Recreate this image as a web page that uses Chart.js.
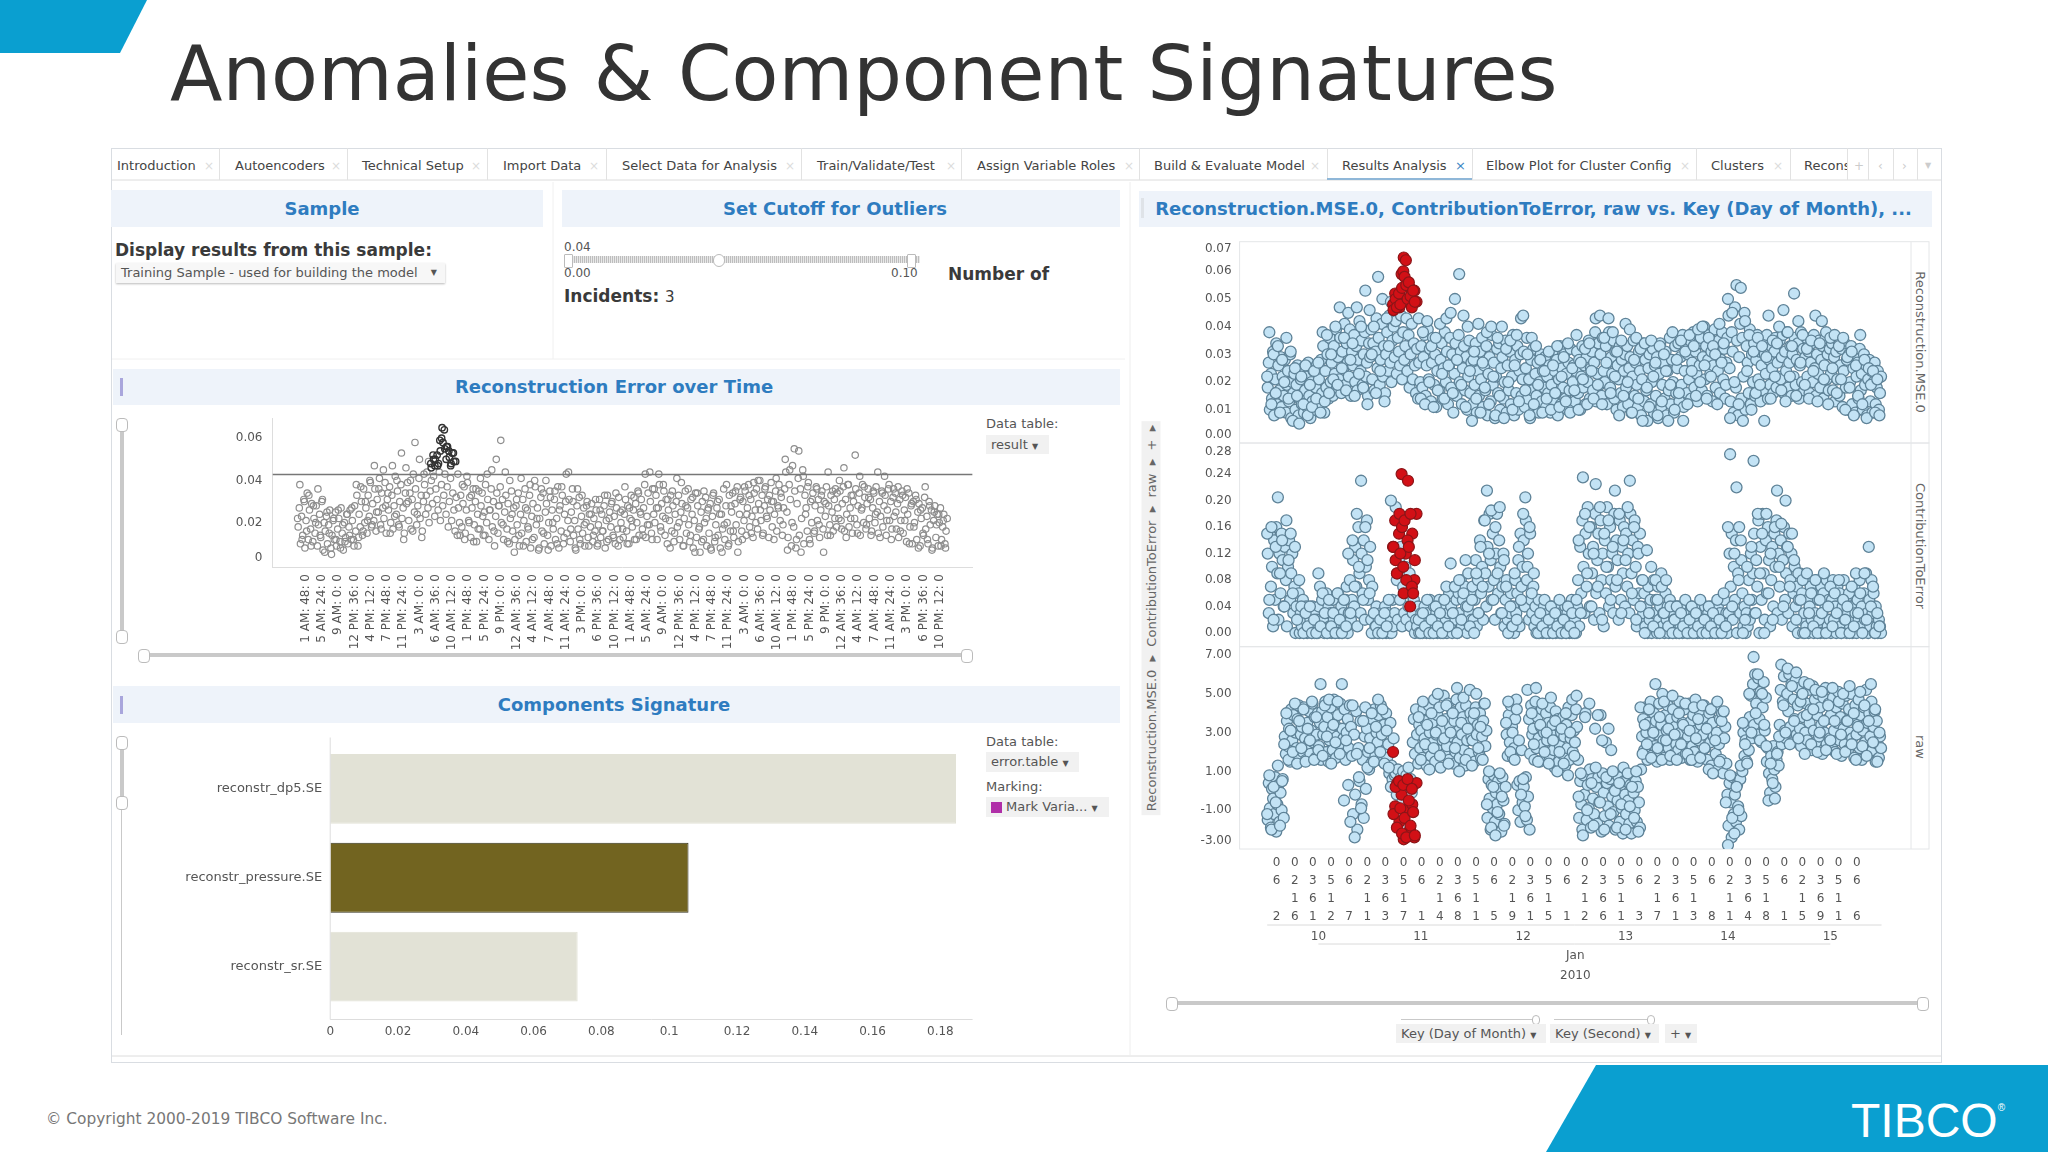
<!DOCTYPE html>
<html>
<head>
<meta charset="utf-8">
<title>Anomalies & Component Signatures</title>
<script src="https://cdn.jsdelivr.net/npm/chart.js@4/dist/chart.umd.js"></script>
<style>
html, body { margin: 0; padding: 0; background: #fff; }
body { width: 2048px; height: 1152px; position: relative; overflow: hidden; font-family: "DejaVu Sans", sans-serif; color: #444; }
.abs, .tab, .head, .lbl, .sel, .line, .handle { position: absolute; }
.tab { top: 156px; font-size: 13px; line-height: 20px; color: #444; white-space: nowrap; }
.tx { position: absolute; top: 156px; font-size: 12px; line-height: 20px; color: #dcdcdc; }
.sep { position: absolute; top: 148px; height: 32px; width: 1px; background: #e2e2e2; }
.head { background: #eef3fa; color: #2e7cc0; font-weight: bold; font-size: 18px; text-align: center; white-space: nowrap; box-sizing: border-box; }
.lbl { font-size: 13px; line-height: 14px; white-space: nowrap; color: #555; }
.bold { font-weight: bold; font-size: 17px; line-height: 18px; color: #3a3a3a; }
.sel { background: #f1f1f1; font-size: 13px; line-height: 20px; color: #555; white-space: nowrap; padding-left: 5px; box-sizing: border-box; }
.line { background: #c9c9c9; }
.handle { width: 10px; height: 12px; background: #fff; border: 1px solid #bbb; border-radius: 4px; }
.chartbox { position: absolute; }
.rot { position: absolute; white-space: pre; font-size: 13px; color: #666; transform-origin: center; }
</style>
</head>
<body>
<svg class="abs" style="left:0;top:0" width="2048" height="1152">
  <polygon points="0,0 147,0 120,53 0,53" fill="#0a9fd0"/>
  <polygon points="1596,1065 2048,1065 2048,1152 1546,1152" fill="#0a9fd0"/>
  <rect x="111.5" y="148.5" width="1830" height="914" fill="none" stroke="#d9dde2"/>
  <line x1="112" y1="180" x2="1941" y2="180" stroke="#dcdcdc"/>
  <line x1="112" y1="1056" x2="1941" y2="1056" stroke="#dcdcdc"/>
  <line x1="553" y1="182" x2="553" y2="359" stroke="#f0f0f0"/>
  <line x1="112" y1="359" x2="1125" y2="359" stroke="#f0f0f0"/>
  <line x1="1130" y1="182" x2="1130" y2="1056" stroke="#eeeeee"/>
</svg>
<div class="abs" style="left:170px;top:24px;font-size:76.7px;line-height:100px;color:#333;white-space:nowrap">Anomalies &amp; Component Signatures</div>

<div class="tab" style="left:117px">Introduction</div><div class="tx" style="left:204px">×</div>
<div class="tab" style="left:235px">Autoencoders</div><div class="tx" style="left:331px">×</div>
<div class="tab" style="left:362px">Technical Setup</div><div class="tx" style="left:471px">×</div>
<div class="tab" style="left:503px">Import Data</div><div class="tx" style="left:589px">×</div>
<div class="tab" style="left:622px">Select Data for Analysis</div><div class="tx" style="left:785px">×</div>
<div class="tab" style="left:817px">Train/Validate/Test</div><div class="tx" style="left:946px">×</div>
<div class="tab" style="left:977px">Assign Variable Roles</div><div class="tx" style="left:1124px">×</div>
<div class="tab" style="left:1154px">Build &amp; Evaluate Model</div><div class="tx" style="left:1310px">×</div>
<div class="tab" style="left:1342px">Results Analysis</div>
<div class="tab" style="left:1455px;color:#3b87c4">×</div>
<div class="tab" style="left:1486px">Elbow Plot for Cluster Config</div><div class="tx" style="left:1680px">×</div>
<div class="tab" style="left:1711px">Clusters</div><div class="tx" style="left:1773px">×</div>
<div class="tab" style="left:1804px;width:43px;overflow:hidden">Recons</div>
<div class="tx" style="left:1854px;color:#ccc">+</div><div class="tx" style="left:1878px;color:#ccc">‹</div><div class="tx" style="left:1902px;color:#ccc">›</div><div class="tx" style="left:1925px;color:#ccc;font-size:8px">▼</div>
<div class="sep" style="left:219px"></div><div class="sep" style="left:347px"></div><div class="sep" style="left:487px"></div>
<div class="sep" style="left:606px"></div><div class="sep" style="left:801px"></div><div class="sep" style="left:961px"></div>
<div class="sep" style="left:1139px"></div><div class="sep" style="left:1327px"></div><div class="sep" style="left:1472px"></div>
<div class="sep" style="left:1696px"></div><div class="sep" style="left:1790px"></div><div class="sep" style="left:1847px"></div>
<div class="sep" style="left:1868px"></div><div class="sep" style="left:1893px"></div><div class="sep" style="left:1917px"></div>
<div class="line" style="left:1327px;top:178px;width:145px;height:2px;background:#8fb7d8"></div>

<div class="head" style="left:111px;top:190px;width:432px;height:37px;line-height:37px;padding-right:10px">Sample</div>
<div class="head" style="left:562px;top:190px;width:558px;height:37px;line-height:37px;padding-right:12px">Set Cutoff for Outliers</div>
<div class="head" style="left:1139px;top:191px;width:793px;height:36px;line-height:36px;padding-right:4px">Reconstruction.MSE.0, ContributionToError, raw vs. Key (Day of Month), ...</div>
<div class="head" style="left:113px;top:369px;width:1007px;height:36px;line-height:36px;padding-right:5px">Reconstruction Error over Time</div>
<div class="head" style="left:113px;top:686px;width:1007px;height:37px;line-height:37px;padding-right:5px">Components Signature</div>
<div class="line" style="left:120px;top:378px;width:3px;height:18px;background:#a9a6dc"></div>
<div class="line" style="left:120px;top:696px;width:3px;height:18px;background:#a9a6dc"></div>
<div class="line" style="left:1141px;top:198px;width:3px;height:20px;background:#dfe3e8"></div>

<div class="lbl bold" style="left:115px;top:241px">Display results from this sample:</div>
<div class="sel" style="left:116px;top:263px;width:329px;height:20px;box-shadow:0 1px 2px #bbb;background:#f7f7f7">Training Sample - used for building the model<span style="position:absolute;right:8px;font-size:8px">▼</span></div>

<div class="lbl" style="left:564px;top:240px;font-size:12px">0.04</div>
<div class="line" style="left:568px;top:256px;width:352px;height:7px;background:repeating-linear-gradient(90deg,#bdbdbd 0 1px,#e8e8e8 1px 2px)"></div>
<div class="handle" style="left:713px;top:254px;height:11px;border-radius:6px"></div>
<div class="handle" style="left:564px;top:254px;width:7px;border-radius:1px"></div>
<div class="handle" style="left:907px;top:254px;width:7px;border-radius:1px"></div>
<div class="lbl" style="left:564px;top:266px;font-size:12px">0.00</div>
<div class="lbl" style="left:891px;top:266px;font-size:12px">0.10</div>
<div class="lbl bold" style="left:948px;top:265px">Number of</div>
<div class="lbl bold" style="left:564px;top:287px">Incidents: <span style="font-weight:normal;font-size:15px">3</span></div>

<div class="line" style="left:120px;top:424px;width:4px;height:212px"></div>
<div class="handle" style="left:116px;top:418px"></div><div class="handle" style="left:116px;top:630px"></div>
<div class="line" style="left:143px;top:653px;width:824px;height:4px"></div>
<div class="handle" style="left:138px;top:649px"></div><div class="handle" style="left:961px;top:649px"></div>
<div class="lbl" style="left:986px;top:417px">Data table:</div>
<div class="sel" style="left:986px;top:435px;width:63px;height:19px;line-height:19px">result <span style="font-size:8px">▼</span></div>

<div class="line" style="left:120px;top:745px;width:4px;height:58px"></div>
<div class="line" style="left:121px;top:803px;width:1px;height:232px"></div>
<div class="handle" style="left:116px;top:736px"></div><div class="handle" style="left:116px;top:796px"></div>
<div class="lbl" style="left:986px;top:735px">Data table:</div>
<div class="sel" style="left:986px;top:752px;width:93px;height:20px">error.table <span style="font-size:8px">▼</span></div>
<div class="lbl" style="left:986px;top:780px">Marking:</div>
<div class="sel" style="left:986px;top:797px;width:123px;height:20px;padding-left:20px">Mark Varia... <span style="font-size:8px">▼</span></div>
<div class="abs" style="left:991px;top:802px;width:11px;height:11px;background:#b02fa8"></div>

<div class="rot" style="left:1151px;top:618px;transform:translate(-50%,-50%) rotate(-90deg);background:#f1f1f1;padding:2px 4px">Reconstruction.MSE.0  ▸  ContributionToError  ▸  raw  ▸  +  ▸</div>
<div class="rot" style="left:1920px;top:342px;transform:translate(-50%,-50%) rotate(90deg)">Reconstruction.MSE.0</div>
<div class="rot" style="left:1920px;top:546px;transform:translate(-50%,-50%) rotate(90deg)">ContributionToError</div>
<div class="rot" style="left:1920px;top:747px;transform:translate(-50%,-50%) rotate(90deg)">raw</div>

<div class="line" style="left:1171px;top:1001px;width:752px;height:4px"></div>
<div class="handle" style="left:1166px;top:997px"></div><div class="handle" style="left:1917px;top:997px"></div>
<div class="line" style="left:1401px;top:1019px;width:136px;height:1px"></div>
<div class="line" style="left:1554px;top:1019px;width:97px;height:1px"></div>
<div class="handle" style="left:1532px;top:1015px;width:6px;height:8px"></div>
<div class="handle" style="left:1647px;top:1015px;width:6px;height:8px"></div>
<div class="sel" style="left:1396px;top:1024px;width:150px;height:19px;line-height:19px">Key (Day of Month) <span style="font-size:8px">▼</span></div>
<div class="sel" style="left:1550px;top:1024px;width:109px;height:19px;line-height:19px">Key (Second) <span style="font-size:8px">▼</span></div>
<div class="sel" style="left:1665px;top:1024px;width:32px;height:19px;line-height:19px">+ <span style="font-size:8px">▼</span></div>

<div class="abs" style="left:46px;top:1110px;font-size:15.4px;line-height:18px;color:#777;white-space:nowrap">© Copyright 2000-2019 TIBCO Software Inc.</div>
<div class="abs" style="left:1851px;top:1078px;font-family:'Liberation Sans',sans-serif;font-size:48px;line-height:60px;color:#fff;white-space:nowrap">TIBCO<sup style="font-size:10px;vertical-align:26px">®</sup></div>

<div class="chartbox" style="left:100px;top:400px;width:880px;height:254px"><canvas id="timeChart"></canvas></div>
<div class="chartbox" style="left:100px;top:730px;width:880px;height:310px"><canvas id="signatureChart"></canvas></div>
<div class="chartbox" style="left:1130px;top:235px;width:805px;height:751px"><canvas id="trellisChart"></canvas></div>

<script>
// main samples: one every half hour from Jan 10 00:00
const stepHours = 0.5;
const mseValues = [
  .022,.038,.012,.030,.016,.033,.009,.028,.020,.036,.014,.031,.006,.025,.015,.005,.022,.012,.026,.008,.019,.011,.024,.014,
  .027,.009,.038,.013,.037,.016,.030,.021,.040,.019,.047,.025,.036,.017,.045,.028,.034,.015,.047,.023,.040,.018,.053,.012,
  .046,.030,.040,.016,.058,.024,.050,.013,.043,.033,.049,.048,.052,.050,.047,.059,.065,.064,.056,.054,.048,.053,.049,.043,
  .014,.038,.012,.042,.020,.033,.011,.036,.017,.041,.023,.014,.043,.026,.045,.016,.050,.028,.059,.019,.044,.011,.040,.024,
  .006,.031,.014,.041,.009,.027,.018,.038,.012,.040,.022,.008,.036,.015,.040,.007,.032,.020,.035,.010,.026,.037,.013,.043,
  .044,.017,.030,.008,.036,.012,.033,.019,.028,.009,.024,.014,.031,.010,.026,.016,.033,.011,.022,.029,.013,.034,.009,.025,
  .017,.037,.010,.027,.021,.032,.012,.034,.024,.014,.043,.019,.044,.012,.036,.027,.043,.016,.038,.022,.031,.008,.035,.015,
  .041,.020,.039,.009,.028,.036,.014,.032,.006,.034,.018,.011,.035,.022,.027,.008,.033,.013,.030,.024,.006,.019,.038,.010,
  .028,.016,.035,.006,.031,.012,.037,.024,.033,.015,.039,.020,.040,.026,.014,.036,.022,.033,.030,.012,.041,.027,.034,.019,
  .050,.007,.045,.020,.055,.012,.054,.006,.042,.024,.037,.010,.031,.016,.036,.019,.033,.006,.029,.044,.014,.035,.022,.034,
  .040,.017,.046,.013,.038,.022,.033,.052,.015,.042,.027,.037,.019,.032,.014,.035,.024,.044,.013,.034,.042,.021,.038,.012,
  .036,.025,.037,.016,.033,.021,.036,.010,.029,.018,.031,.008,.026,.015,.037,.012,.028,.007,.025,.019,.024,.009,.021,.008
];
const contributionValues = [
  .15,.05,.16,.02,.13,.205,.09,.14,.04,.17,.11,.15,.06,.13,.02,.08,.04,.00,.03,.01,.04,.00,.02,.00,
  .09,.01,.06,.03,.00,.05,.01,.03,.00,.06,.02,.00,.05,.01,.12,.03,.14,.07,.18,.10,.23,.05,.16,.11,
  .06,.00,.03,.01,.00,.02,.00,.03,.01,.05,.20,.13,.17,.09,.18,.24,.06,.12,.23,.04,.15,.08,.18,.02,
  .00,.03,.01,.05,.00,.02,.00,.04,.01,.03,.00,.05,.07,.01,.105,.03,.07,.00,.08,.02,.06,.11,.04,.01,
  .05,.00,.09,.03,.13,.07,.17,.215,.12,.185,.05,.16,.09,.19,.03,.11,.07,.00,.04,.01,.09,.02,.13,.05,
  .18,.205,.10,.16,.06,.09,.02,.00,.03,.01,.05,.00,.02,.04,.00,.03,.01,.05,.00,.02,.00,.04,.01,.03,
  .00,.05,.14,.03,.235,.18,.09,.16,.04,.12,.225,.07,.19,.02,.15,.10,.17,.05,.13,.215,.08,.18,.03,.14,
  .11,.19,.23,.06,.16,.02,.12,.04,.08,.00,.125,.03,.10,.01,.08,.05,.00,.07,.03,.08,.01,.04,.00,.02,
  .04,.00,.03,.01,.05,.00,.02,.04,.00,.03,.01,.05,.00,.02,.00,.04,.01,.03,.00,.05,.02,.00,.06,.01,
  .16,.27,.04,.12,.22,.08,.14,.00,.02,.10,.05,.13,.26,.03,.18,.09,.15,.00,.18,.06,.12,.02,.16,.215,
  .10,.165,.04,.20,.13,.07,.15,.11,.02,.09,.05,.08,.00,.09,.03,.06,.01,.08,.00,.05,.03,.09,.00,.04,
  .07,.01,.06,.03,.08,.00,.05,.02,.04,.00,.07,.01,.09,.03,.06,.00,.09,.02,.13,.04,.07,.00,.03,.01
];
const rawValues = [
  -1.2,.8,-2.0,.2,-.6,1.3,-1.8,.5,2.4,4.0,1.6,3.1,2.0,4.5,1.4,3.6,2.2,4.2,1.5,3.2,2.6,4.6,1.6,3.8,
  2.1,5.5,1.8,4.4,2.8,4.7,1.4,3.4,2.5,4.6,1.9,5.5,-.5,2.6,.3,-1.6,4.4,-2.4,1.9,.7,-.9,3.6,4.3,1.2,
  2.2,4.0,1.5,3.3,4.7,2.0,4.2,1.4,3.1,1.2,.2,2.0,-.8,.4,-1.6,-.2,-2.5,-1.0,.3,-2.0,-.7,-2.4,.4,3.8,
  1.6,4.6,2.4,3.4,1.1,4.0,2.2,3.0,5.0,1.8,3.6,2.7,4.4,1.4,3.0,4.0,2.2,5.3,1.0,3.5,4.8,1.6,3.2,5.2,
  1.3,4.0,5.0,2.2,3.3,1.6,4.5,-.7,1.0,-1.9,.2,-2.3,-1.1,.9,-.3,-1.8,3.5,4.6,2.0,3.0,1.6,4.2,2.6,-.2,
  .6,-1.3,5.2,-2.0,4.0,2.4,5.3,1.5,3.4,4.5,2.0,3.0,1.4,4.8,2.6,3.6,1.0,2.0,3.2,1.4,4.0,.8,3.0,4.7,
  1.8,4.9,-.3,.9,-2.3,3.8,-1.0,4.5,.4,-1.8,1.2,3.9,-.6,2.6,-2.0,.7,3.2,-1.2,1.0,.0,-1.9,.4,-.7,1.2,
  -2.0,.9,-.8,.2,-1.4,1.0,-2.1,4.3,1.9,3.4,2.4,4.2,1.7,3.0,5.5,2.2,3.8,1.6,4.6,2.6,3.2,1.8,4.9,2.9,
  1.6,4.0,2.4,3.4,4.5,1.9,3.1,1.6,4.3,2.7,3.7,1.7,4.4,2.2,3.2,1.1,4.2,.9,2.6,4.6,1.5,3.6,4.1,-.6,
  -2.8,.8,-1.4,-2.2,.2,-1.0,1.3,3.5,2.4,1.4,5.0,3.0,6.9,4.0,6.0,2.6,5.0,3.4,2.3,-.5,1.4,.4,-.4,1.9,
  2.8,6.5,4.4,3.0,6.3,2.4,5.4,3.6,6.1,2.7,4.6,5.0,1.9,3.9,5.5,2.4,4.2,5.2,2.0,3.0,5.1,3.6,2.1,4.4,
  2.6,5.3,3.6,1.9,4.6,2.9,5.0,2.0,3.6,5.4,2.4,4.0,1.6,3.3,5.1,2.3,4.4,1.8,3.6,5.5,2.5,4.2,1.5,3.0
];
const fillStartHours = 0.125;
const fillStepHours = 0.25;
const mseFill = [
  .018,.027,.010,.023,.014,.031,.008,.021,.034,.012,.026,.017,.029,.011,.022,.015,.028,.009,.019,.024,.013,.030,.007,.020,
  .016,.023,.010,.019,.026,.008,.014,.021,.012,.025,.009,.017,.022,.011,.027,.015,.007,.020,.013,.024,.010,.018,.026,.012,
  .021,.012,.028,.016,.033,.009,.024,.018,.030,.014,.036,.020,.027,.015,.033,.023,.039,.018,.029,.021,.036,.016,.031,.025,
  .041,.019,.034,.027,.022,.039,.015,.031,.026,.037,.020,.033,.017,.028,.042,.024,.035,.019,.030,.038,.022,.027,.015,.034,
  .029,.039,.021,.034,.017,.031,.043,.025,.036,.019,.028,.041,.022,.033,.016,.030,.038,.024,.044,.027,.020,.035,.040,.029,
  .042,.023,.036,.031,.026,.044,.021,.038,.028,.033,.043,.024,.037,.018,.030,.041,.021,.034,.026,.016,.032,.014,.027,.020,
  .033,.018,.029,.037,.015,.026,.039,.021,.032,.013,.027,.036,.019,.030,.011,.024,.035,.017,.028,.034,.014,.025,.038,.020,
  .031,.012,.026,.036,.018,.030,.009,.023,.034,.015,.028,.037,.020,.031,.012,.025,.033,.017,.029,.010,.022,.035,.016,.027,
  .012,.028,.019,.034,.009,.024,.015,.031,.021,.036,.011,.026,.017,.033,.008,.023,.029,.013,.037,.019,.027,.007,.022,.032,
  .016,.034,.010,.025,.029,.014,.020,.035,.009,.026,.017,.031,.012,.022,.037,.008,.028,.016,.033,.010,.024,.030,.015,.021,
  .031,.011,.025,.036,.014,.021,.007,.028,.017,.032,.010,.023,.015,.027,.009,.020,.030,.013,.024,.018,.029,.011,.022,.016,
  .026,.009,.019,.031,.013,.024,.016,.028,.008,.021,.033,.012,.025,.018,.030,.014,.023,.010,.027,.017,.032,.012,.020,.026,
  .013,.024,.031,.016,.028,.010,.022,.033,.018,.026,.012,.029,.020,.035,.014,.025,.031,.017,.027,.038,.013,.023,.034,.019,
  .030,.015,.036,.024,.020,.033,.012,.027,.038,.018,.029,.023,.035,.014,.031,.010,.026,.021,.033,.016,.028,.011,.024,.030,
  .018,.033,.012,.025,.029,.009,.022,.035,.015,.027,.019,.011,.031,.024,.008,.021,.034,.013,.028,.017,.006,.025,.030,.012,
  .020,.032,.009,.026,.015,.029,.007,.023,.034,.011,.019,.027,.014,.031,.008,.024,.017,.036,.012,.028,.020,.009,.033,.016,
  .025,.034,.013,.029,.019,.037,.011,.024,.032,.016,.030,.021,.035,.014,.027,.038,.018,.031,.023,.013,.034,.026,.036,.017,
  .029,.040,.021,.033,.015,.028,.037,.023,.031,.013,.026,.039,.018,.030,.024,.035,.016,.028,.038,.021,.032,.014,.027,.036,
  .044,.025,.013,.038,.031,.009,.047,.018,.035,.008,.029,.041,.014,.036,.022,.045,.010,.033,.027,.016,.039,.012,.030,.020,
  .034,.015,.028,.037,.021,.031,.013,.026,.035,.017,.030,.023,.037,.014,.028,.019,.033,.025,.016,.031,.036,.018,.027,.022,
  .035,.021,.029,.037,.016,.031,.024,.038,.018,.027,.033,.015,.030,.022,.036,.019,.028,.034,.014,.026,.038,.020,.032,.017,
  .029,.036,.022,.031,.016,.027,.034,.020,.037,.025,.015,.030,.023,.035,.018,.028,.033,.014,.026,.036,.021,.030,.017,.032,
  .023,.034,.017,.029,.013,.031,.021,.035,.015,.026,.032,.011,.024,.034,.018,.028,.010,.030,.020,.033,.012,.025,.029,.009,
  .022,.027,.014,.032,.017,.023,.010,.030,.019,.026,.008,.021,.028,.013,.024,.009,.020,.027,.012,.018,.024,.010,.016,.022
];
const contributionFill = [
  .12,.03,.15,.07,.10,.01,.14,.05,.16,.09,.02,.12,.06,.15,.11,.04,.13,.08,.01,.10,.14,.05,.09,.12,
  .03,.07,.00,.04,.02,.06,.00,.03,.01,.05,.00,.02,.04,.00,.03,.01,.02,.00,.04,.01,.00,.03,.02,.00,
  .04,.07,.01,.05,.02,.00,.03,.06,.00,.04,.01,.03,.00,.05,.02,.00,.03,.01,.06,.00,.02,.04,.00,.03,
  .01,.05,.07,.00,.03,.08,.02,.05,.11,.04,.13,.07,.01,.16,.09,.03,.12,.06,.14,.02,.10,.17,.05,.08,
  .13,.02,.07,.00,.03,.01,.04,.00,.02,.00,.03,.01,.00,.02,.04,.00,.01,.03,.00,.02,.00,.05,.01,.03,
  .19,.08,.02,.11,.05,.13,.01,.07,.03,.10,.02,.06,.04,.09,.01,.07,.03,.05,.00,.02,.01,.04,.00,.02,
  .03,.00,.02,.04,.01,.00,.03,.01,.05,.00,.02,.00,.04,.01,.03,.00,.02,.05,.00,.03,.01,.00,.04,.02,
  .00,.03,.06,.01,.04,.00,.03,.07,.02,.05,.00,.06,.03,.08,.01,.05,.02,.07,.04,.00,.09,.03,.06,.02,
  .07,.02,.05,.11,.01,.08,.03,.14,.06,.10,.02,.17,.09,.04,.13,.07,.18,.11,.05,.15,.08,.02,.12,.18,
  .06,.14,.10,.03,.07,.12,.01,.05,.08,.02,.00,.03,.06,.01,.04,.00,.08,.03,.06,.11,.01,.15,.07,.10,
  .14,.04,.17,.08,.12,.02,.15,.05,.03,.07,.01,.04,.00,.02,.05,.00,.03,.01,.00,.04,.02,.00,.01,.03,
  .00,.02,.04,.00,.01,.03,.00,.02,.04,.01,.00,.03,.00,.02,.01,.04,.00,.03,.01,.00,.02,.05,.00,.01,
  .02,.00,.04,.08,.01,.13,.06,.17,.10,.03,.15,.07,.19,.12,.04,.16,.09,.13,.02,.18,.06,.11,.15,.03,
  .17,.08,.12,.01,.14,.06,.19,.10,.04,.16,.08,.12,.03,.18,.07,.14,.11,.02,.17,.05,.13,.09,.16,.04,
  .15,.07,.12,.03,.18,.09,.14,.05,.17,.10,.01,.13,.06,.15,.02,.08,.03,.06,.01,.04,.00,.07,.02,.05,
  .00,.03,.08,.01,.05,.00,.07,.02,.04,.09,.01,.03,.00,.06,.02,.04,.00,.05,.01,.03,.00,.02,.04,.00,
  .02,.04,.00,.01,.03,.00,.02,.04,.01,.00,.03,.00,.02,.04,.00,.01,.03,.00,.02,.00,.04,.01,.00,.03,
  .00,.02,.04,.00,.01,.03,.00,.02,.04,.00,.03,.01,.00,.02,.04,.00,.03,.01,.00,.02,.05,.01,.03,.00,
  .03,.12,.07,.15,.02,.10,.05,.14,.00,.09,.16,.03,.11,.06,.01,.04,.00,.03,.01,.08,.02,.12,.05,.09,
  .15,.03,.11,.07,.17,.00,.13,.05,.18,.09,.02,.14,.06,.16,.11,.01,.08,.13,.04,.15,.10,.17,.03,.12,
  .07,.14,.02,.11,.16,.05,.09,.13,.03,.15,.08,.12,.01,.06,.10,.04,.07,.00,.05,.09,.02,.06,.00,.03,
  .08,.01,.05,.00,.04,.07,.02,.06,.00,.03,.08,.01,.05,.02,.00,.07,.03,.06,.00,.04,.08,.01,.05,.02,
  .00,.05,.08,.02,.04,.00,.07,.03,.06,.01,.00,.04,.08,.02,.05,.00,.03,.06,.01,.04,.00,.02,.07,.03,
  .00,.05,.02,.08,.01,.04,.00,.06,.02,.09,.03,.00,.05,.01,.08,.03,.06,.00,.04,.01,.00,.02,.01,.00
];
const rawFill = [
  -1.5,.4,-.9,-1.9,.1,-.4,-1.2,.7,-2.1,-.7,.3,-1.6,-.1,-1.0,.6,-1.4,2.8,1.9,3.6,2.3,3.2,1.5,4.2,2.6,
  3.9,1.8,3.0,2.2,3.7,4.4,1.7,2.9,3.3,2.0,4.3,2.7,1.6,3.5,2.4,4.1,1.9,3.1,4.5,2.5,3.8,1.7,2.9,4.0,
  2.3,3.5,1.6,4.1,2.9,3.3,4.6,2.0,3.8,1.5,2.6,4.3,3.1,2.1,4.7,3.4,1.7,2.8,3.9,2.4,4.5,1.9,3.2,2.7,
  4.2,1.6,3.0,3.7,2.2,4.4,3.3,1.8,-1.2,2.9,-.2,4.1,-2.0,2.2,.5,3.6,-.7,1.6,-1.4,2.8,.1,3.2,2.0,1.1,
  2.7,1.4,3.7,2.2,4.2,1.8,3.0,2.5,3.9,1.6,4.4,2.9,1.5,3.4,2.1,4.0,1.7,2.4,.9,3.5,1.3,.6,2.7,.8,
  .9,-.2,1.1,.5,-1.2,.7,-.6,1.0,.3,-1.9,.8,.1,1.2,-.9,.6,-.1,2.5,3.7,1.9,4.2,2.9,1.4,3.4,2.2,
  3.1,1.7,4.2,2.7,3.6,1.3,2.2,4.4,3.0,1.8,3.5,2.5,4.7,1.5,2.9,3.9,2.1,4.3,1.2,3.2,2.6,4.9,1.9,3.7,
  2.3,4.5,1.6,3.3,2.8,4.1,1.4,3.6,2.0,4.7,2.5,3.1,1.7,4.3,2.9,3.8,2.1,1.3,4.4,2.6,3.5,1.9,4.0,2.8,
  2.6,3.7,1.5,4.3,2.9,3.4,2.0,4.0,1.7,2.8,3.6,4.5,2.3,3.1,-1.4,.6,-.4,-2.0,.3,-.9,.8,-1.6,-.1,-.7,
  .5,-1.2,.1,-2.1,.7,-.5,-1.7,.2,2.9,1.8,3.9,2.5,4.4,3.3,1.7,2.2,3.7,4.7,.3,-1.0,.5,-1.6,2.1,-.6,
  .2,-.8,.7,-1.5,-.3,3.7,1.9,4.4,2.9,3.2,1.6,4.6,2.2,3.8,2.7,1.5,3.3,4.2,2.4,3.0,1.7,4.0,2.6,3.5,
  1.8,4.3,2.9,3.4,2.1,1.2,4.1,2.6,3.7,1.5,2.3,3.0,1.9,3.8,2.8,1.3,3.4,2.2,4.3,1.6,2.7,3.9,2.0,3.1,
  2.5,4.2,3.3,1.6,-1.4,.5,-.7,-2.0,.8,-.2,4.0,-1.5,.3,-.9,1.1,-1.9,.6,-.4,-1.2,3.2,.2,-1.7,.7,-.6,
  3.9,-2.1,.9,-.1,-1.3,2.5,.4,-.8,-1.8,.6,2.1,-.3,-1.1,.9,-2.0,.1,-.5,.7,-1.6,.3,-.9,-2.2,.5,-.2,
  -1.2,.6,-.5,-1.7,.3,-2.2,.8,-.1,-1.0,.5,-1.6,.2,-.6,-1.9,1.1,2.8,3.7,2.1,4.3,3.0,1.6,3.5,2.5,4.6,
  1.8,3.2,4.0,2.3,3.6,1.5,2.9,4.5,2.0,3.4,5.0,2.6,1.7,3.9,3.1,4.4,2.2,1.6,3.7,2.8,4.2,1.9,3.3,2.4,
  3.8,2.1,4.6,3.0,1.7,3.5,2.5,4.2,1.9,3.2,2.8,4.5,1.6,3.6,2.3,3.9,2.0,4.7,3.1,1.5,2.6,4.1,3.4,1.8,
  2.9,4.4,2.2,3.7,1.6,3.3,4.0,2.5,1.3,3.5,2.8,4.3,1.9,3.0,1.1,2.4,3.7,1.6,4.0,.9,2.7,3.3,1.4,-.2,
  -1.8,.4,-.6,-2.4,.7,-1.2,-.2,-1.6,.3,-.8,-2.0,.6,-1.3,1.0,3.0,1.8,2.6,1.5,3.3,2.1,3.8,4.9,2.7,5.5,
  3.4,6.0,4.5,2.9,5.8,3.7,5.1,2.5,4.3,5.6,3.1,4.8,1.5,2.2,.9,-.1,1.8,.6,2.3,1.1,.2,1.6,2.0,1.3,
  3.4,5.2,2.4,4.6,5.9,3.1,2.7,5.0,4.1,6.0,3.3,5.5,2.5,4.7,3.7,5.7,2.9,4.4,5.3,3.2,2.3,4.9,3.8,5.6,
  3.0,4.5,2.6,5.2,3.5,4.2,2.1,5.4,3.1,4.7,2.5,3.9,5.0,2.8,4.3,3.4,1.9,4.8,3.0,5.3,2.4,3.7,4.5,2.7,
  3.9,2.3,4.8,3.1,2.0,4.3,3.5,5.1,2.6,3.8,1.8,4.5,3.2,2.4,4.9,3.6,2.1,4.2,3.0,5.0,2.7,3.7,1.7,4.4,
  2.9,3.4,4.7,2.2,3.9,1.6,3.1,4.3,2.5,5.2,3.5,1.9,4.0,2.8,4.6,2.1,3.3,4.1,1.5,3.6,2.4,1.7,2.8,2.2
];
// samples marked as the incident: an index range of the main arrays plus some more
const markedFirst = 59;
const markedLast = 70;
const markedHours = [29.6,30.1,30.4,30.9,31.2,31.6,31.9,32.2,32.6,32.9,33.2,33.6,33.9,34.2,34.6];
const markedMse = [.046,.050,.047,.052,.048,.054,.060,.058,.055,.050,.056,.051,.047,.053,.049];
const markedContribution = [.13,.11,.09,.15,.12,.16,.10,.17,.08,.14,.13,.18,.07,.06,.11];
const markedRaw = [-1.2,.2,-1.9,.5,-.9,-2.2,.3,-1.4,-2.4,.6,-.5,-1.8,.1,-1.1,-2.3];
const cutoff = 0.0428;

const timeTickLabels = ['1 AM: 48: 0','5 AM: 24: 0','9 AM: 0: 0','12 PM: 36: 0','4 PM: 12: 0','7 PM: 48: 0','11 PM: 24: 0','3 AM: 0: 0','6 AM: 36: 0','10 AM: 12: 0',
  '1 PM: 48: 0','5 PM: 24: 0','9 PM: 0: 0','12 AM: 36: 0','4 AM: 12: 0','7 AM: 48: 0','11 AM: 24: 0','3 PM: 0: 0','6 PM: 36: 0','10 PM: 12: 0',
  '1 AM: 48: 0','5 AM: 24: 0','9 AM: 0: 0','12 PM: 36: 0','4 PM: 12: 0','7 PM: 48: 0','11 PM: 24: 0','3 AM: 0: 0','6 AM: 36: 0','10 AM: 12: 0',
  '1 PM: 48: 0','5 PM: 24: 0','9 PM: 0: 0','12 AM: 36: 0','4 AM: 12: 0','7 AM: 48: 0','11 AM: 24: 0','3 PM: 0: 0','6 PM: 36: 0','10 PM: 12: 0'];
const keyRowA = '000000000000000000000000000000000';
const keyRowB = '623562356235623562356235623562356';
const keyRowC = ' 161 161 161 161 161 161 161 161 ';
const keyRowD = '261271371481591512613713814815916';
const dayLabels = ['10','11','12','13','14','15'];

const components = ['reconstr_dp5.SE','reconstr_pressure.SE','reconstr_sr.SE'];
const componentValues = [0.1846, 0.1057, 0.073];
const componentColors = ['#e2e2d6','#726420','#e2e2d6'];
const componentTicks = [0, 0.02, 0.04, 0.06, 0.08, 0.1, 0.12, 0.14, 0.16, 0.18];

const textColor = '#555';
const axisFont = { family: 'DejaVu Sans', size: 12 };
const isMarked = i => i >= markedFirst && i <= markedLast;

function plainPoints(values, fill, test) {
  const main = values.map((v, i) => ({ x: i * stepHours, y: v, i })).filter(p => test(p.i));
  const extra = fill.map((v, i) => ({ x: fillStartHours + i * fillStepHours, y: v }));
  return extra.concat(main);
}
function markedPoints(values, extra) {
  const main = values.map((v, i) => ({ x: i * stepHours, y: v, i })).filter(p => isMarked(p.i));
  return main.concat(extra.map((v, i) => ({ x: markedHours[i], y: v })));
}

// fix axis sizes so the plot areas land where they should
const fixWidth = w => s => { s.width = w; s.paddingTop = 0; s.paddingBottom = 0; };
const fixHeight = h => s => { s.height = h; s.paddingLeft = 0; s.paddingRight = 0; };
const setTicks = values => s => { s.ticks = values.map(v => ({ value: v })); };

// Reconstruction error over time
const incidentTest = i => isMarked(i) && mseValues[i] > cutoff;
new Chart(document.getElementById('timeChart'), {
  type: 'scatter',
  data: {
    datasets: [
      { data: [{ x: -5.56, y: cutoff }, { x: 149.5, y: cutoff }], type: 'line', borderColor: '#777', borderWidth: 1.5, pointRadius: 0 },
      { data: markedPoints(mseValues, markedMse).filter(p => p.y > cutoff), pointRadius: 3.2, borderWidth: 1.4, pointBorderColor: '#333', pointBackgroundColor: 'rgba(0,0,0,0)' },
      { data: plainPoints(mseValues, mseFill, i => !incidentTest(i)), pointRadius: 3.2, borderWidth: 1.2, pointBorderColor: '#8e8e8e', pointBackgroundColor: 'rgba(255,255,255,0)' }
    ]
  },
  options: {
    responsive: true, maintainAspectRatio: false, animation: false,
    layout: { autoPadding: false, padding: { top: 18.6, right: 7.4 } },
    plugins: { legend: { display: false }, tooltip: { enabled: false } },
    scales: {
      x: {
        type: 'linear', min: -5.56, max: 149.5,
        grid: { display: false, drawTicks: false }, border: { color: '#ddd' },
        afterBuildTicks: setTicks(timeTickLabels.map((_, i) => 1.8 + i * 3.6)),
        afterFit: fixHeight(87),
        ticks: { autoSkip: false, minRotation: 90, maxRotation: 90, padding: 7, color: textColor, font: { family: 'DejaVu Sans', size: 12 }, callback: (v, i) => timeTickLabels[i] }
      },
      y: {
        min: -0.001, max: 0.0693,
        grid: { display: false, drawTicks: false }, border: { color: '#ddd' },
        afterBuildTicks: setTicks([0.0032, 0.02, 0.04, 0.06]),
        afterFit: fixWidth(172.5),
        ticks: { color: textColor, font: axisFont, padding: 10, callback: (v, i) => ['0','0.02','0.04','0.06'][i] }
      }
    }
  }
});

// Components signature
new Chart(document.getElementById('signatureChart'), {
  type: 'bar',
  data: {
    labels: components,
    datasets: [{ data: componentValues, backgroundColor: componentColors, borderColor: ['#e2e2d6','#33301c','#e2e2d6'], borderWidth: 1, barPercentage: 0.787, categoryPercentage: 1 }]
  },
  plugins: [{
    id: 'signatureAxes',
    afterDraw(chart) {
      const { ctx, chartArea: a } = chart;
      ctx.save();
      ctx.strokeStyle = '#dddddd';
      ctx.beginPath();
      ctx.moveTo(a.left, a.top - 7);
      ctx.lineTo(a.left, a.bottom + 8.5);
      ctx.lineTo(a.right, a.bottom + 8.5);
      ctx.stroke();
      ctx.restore();
    }
  }],
  options: {
    indexAxis: 'y',
    responsive: true, maintainAspectRatio: false, animation: false,
    layout: { autoPadding: false, padding: { top: 14.5, right: 7.4 } },
    plugins: { legend: { display: false }, tooltip: { enabled: false } },
    scales: {
      x: {
        min: 0, max: 0.1895,
        grid: { display: false, drawTicks: false }, border: { display: false },
        afterBuildTicks: setTicks(componentTicks),
        afterFit: fixHeight(29),
        ticks: { padding: 14, color: textColor, font: axisFont, maxRotation: 0, callback: (v, i) => String(componentTicks[i]) }
      },
      y: {
        grid: { display: false, drawTicks: false }, border: { display: false },
        afterFit: fixWidth(230.2),
        ticks: { color: textColor, font: { family: 'DejaVu Sans', size: 13 }, padding: 8 }
      }
    }
  }
});

// Trellis: three stacked y scales over one key axis
const panels = [
  { id: 'yRaw', values: rawValues, fill: rawFill, extra: markedRaw, min: -3.0, max: 7.43, weight: 202.3, at: [-2.58,-1,1,3,5,7], labels: ['-3.00','-1.00','1.00','3.00','5.00','7.00'] },
  { id: 'yContribution', values: contributionValues, fill: contributionFill, extra: markedContribution, min: -0.0207, max: 0.287, weight: 203.7, at: [0,.04,.08,.12,.16,.20,.24,.273], labels: ['0.00','0.04','0.08','0.12','0.16','0.20','0.24','0.28'] },
  { id: 'yMse', values: mseValues, fill: mseFill, extra: markedMse, min: -0.002, max: 0.0707, weight: 201.3, at: [.0009,.01,.02,.03,.04,.05,.06,.068], labels: ['0.00','0.01','0.02','0.03','0.04','0.05','0.06','0.07'] }
];
const trellisScales = {
  x: {
    type: 'linear', min: -6.47, max: 150.9, weight: 1,
    grid: { display: false, drawTicks: false }, border: { display: false },
    afterBuildTicks: setTicks(keyRowA.split('').map((_, i) => 2.2 + i * 4.25)),
    afterFit: fixHeight(76),
    ticks: {
      autoSkip: false, maxRotation: 0, padding: 5, color: textColor,
      font: { family: 'DejaVu Sans', size: 12, lineHeight: 1.5 },
      callback: (v, i) => [keyRowA[i], keyRowB[i], keyRowC[i], keyRowD[i]]
    }
  },
  xDay: {
    type: 'linear', position: 'bottom', min: -6.47, max: 150.9, weight: 2,
    grid: { display: false, drawTicks: false }, border: { display: false },
    afterBuildTicks: setTicks(dayLabels.map((_, i) => 12 + i * 24)),
    afterFit: fixHeight(61),
    ticks: { autoSkip: false, maxRotation: 0, padding: 5, color: textColor, font: axisFont, callback: (v, i) => dayLabels[i] },
    title: { display: true, text: ['Jan', '2010'], color: textColor, font: { family: 'DejaVu Sans', size: 12, lineHeight: 1.67 }, padding: 0 }
  }
};
panels.forEach(p => {
  trellisScales[p.id] = {
    position: 'left', stack: 'trellis', stackWeight: p.weight, min: p.min, max: p.max,
    grid: { display: false, drawTicks: false }, border: { display: false },
    afterBuildTicks: setTicks(p.at),
    afterFit: fixWidth(109.6),
    ticks: { autoSkip: false, color: textColor, font: axisFont, padding: 8, callback: (v, i) => p.labels[i] }
  };
});
const trellisSets = [];
panels.forEach(p => {
  trellisSets.push({ data: markedPoints(p.values, p.extra), yAxisID: p.id, xAxisID: 'x', pointRadius: 5.5, borderWidth: 1.2, pointBorderColor: '#8c1518', pointBackgroundColor: '#d21016' });
});
panels.forEach(p => {
  trellisSets.push({ data: plainPoints(p.values, p.fill, i => !isMarked(i)), yAxisID: p.id, xAxisID: 'x', pointRadius: 5.5, borderWidth: 1.3, pointBorderColor: '#5f8398', pointBackgroundColor: '#c3e3f5' });
});
new Chart(document.getElementById('trellisChart'), {
  type: 'scatter',
  data: { datasets: trellisSets },
  plugins: [{
    id: 'trellisFrame',
    beforeDatasetsDraw(chart) {
      const { ctx, chartArea: a, scales } = chart;
      ctx.save();
      ctx.strokeStyle = '#e4e6e8';
      panels.forEach(p => {
        const s = scales[p.id];
        ctx.strokeRect(a.left, s.top, a.right - a.left + 18, s.bottom - s.top);
        ctx.beginPath();
        ctx.moveTo(a.right, s.top);
        ctx.lineTo(a.right, s.bottom);
        ctx.stroke();
      });
      ctx.strokeStyle = '#dadada';
      const rule = (from, to, y) => {
        ctx.beginPath();
        ctx.moveTo(scales.x.getPixelForValue(from), y);
        ctx.lineTo(scales.x.getPixelForValue(to), y);
        ctx.stroke();
      };
      rule(0, 144, scales.xDay.top);
      rule(12, 132, scales.xDay.top + 19);
      ctx.restore();
    }
  }],
  options: {
    responsive: true, maintainAspectRatio: false, animation: false,
    layout: { autoPadding: false, padding: { top: 6.7, right: 24 } },
    plugins: { legend: { display: false }, tooltip: { enabled: false } },
    scales: trellisScales
  }
});
</script>
</body>
</html>
